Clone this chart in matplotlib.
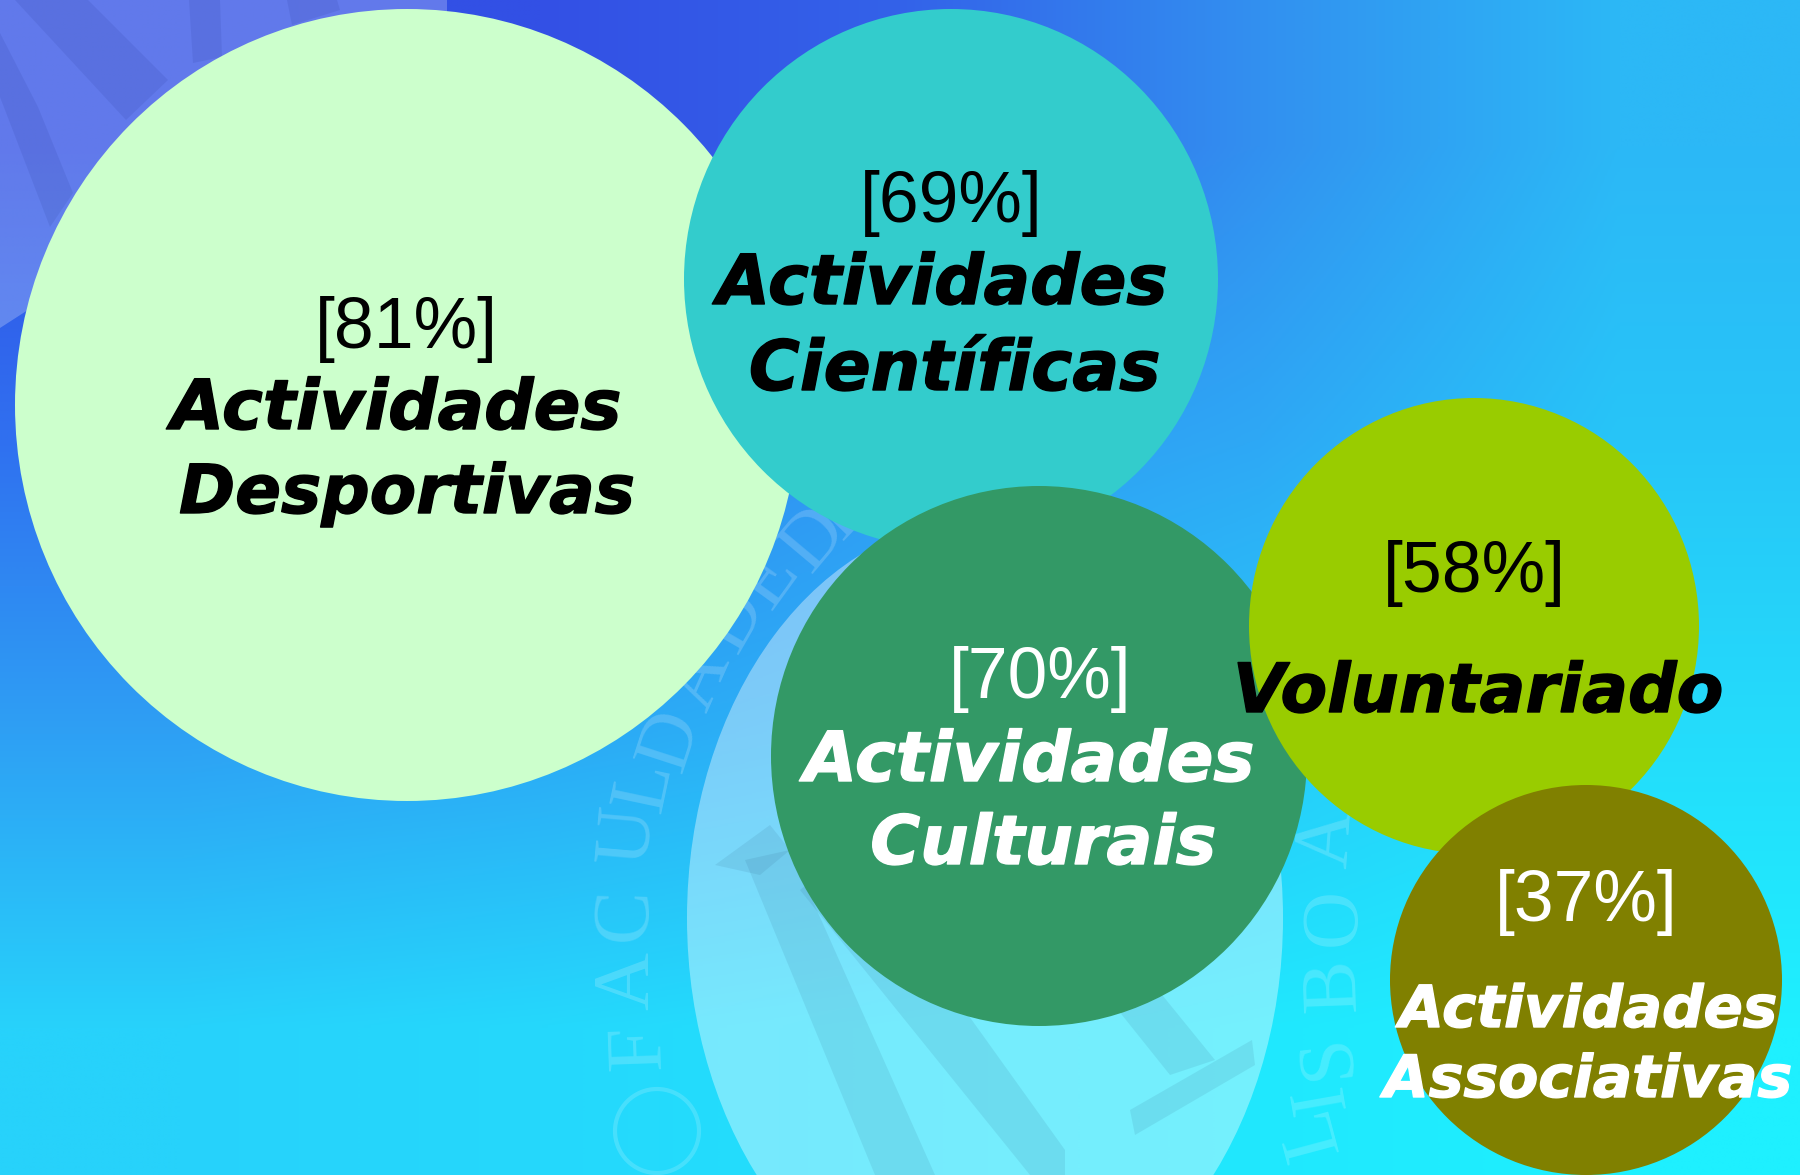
import numpy as np
import matplotlib
matplotlib.use('Agg')
import matplotlib.pyplot as plt
from matplotlib.colors import to_rgb
from matplotlib.patches import Circle, Ellipse, Polygon
import matplotlib.patheffects as pe

W, H = 1800, 1175

# bubbles, back to front
NAMES = ['Desportivas', 'Cientificas', 'Culturais', 'Voluntariado', 'Associativas']
CX = [407, 951, 1039, 1474, 1586]
CY = [405, 279, 756, 626, 980]
RX = [392, 267, 268, 225, 196]
RY = [396, 270, 270, 228, 195]
FILLS = ['#CCFFCC', '#33CCCC', '#339966', '#99CC00', '#808000']

PCT = ['[81%]', '[69%]', '[70%]', '[58%]', '[37%]']
PCT_X = [406, 951, 1040, 1474, 1586]
PCT_Y = [348, 222, 698, 592, 921]
PCT_COL = ['black', 'black', 'white', 'black', 'white']

LABELS = ['Actividades', 'Desportivas', 'Actividades', 'Científicas', 'Actividades',
          'Culturais', 'Voluntariado', 'Actividades', 'Associativas']
LAB_X = [396, 407, 942, 955, 1029, 1043, 1478, 1588, 1588]
LAB_Y = [429, 513, 304, 390, 781, 864, 712, 1027, 1097]
LAB_SIZE = [49.7, 48.7, 49.7, 50, 49.7, 49, 48.9, 41.7, 42]
LAB_COL = ['black', 'black', 'black', 'black', 'white', 'white', 'black', 'white', 'white']

# background colours read on a regular grid
BG_ROWS = [['#3050E5', '#3350E5', '#3462E9', '#3290F0', '#2CB8F6'],
           ['#3070F0', '#3180F0', '#309AF3', '#2EA8F5', '#27C5F8'],
           ['#2EA0F4', '#2CA8F5', '#2BB5F7', '#28C8F9', '#24DCFB'],
           ['#27D2FB', '#25D8FC', '#22E0FD', '#20E8FE', '#1EF0FF']]

# watermark pieces
TL_PATCH = [(0, 0), (447, 0), (447, 40), (0, 328)]
TL_STRIPES = [[(15, 0), (88, 0), (168, 80), (126, 120)],
              [(189, 0), (220, 0), (222, 57), (193, 63)],
              [(287, 0), (337, 0), (340, 10), (292, 25)],
              [(0, 33), (0, 97), (50, 227), (73, 193), (38, 107)]]
SEAL_STROKES = [[(715, 865), (770, 825), (790, 850), (760, 875)],
                [(745, 860), (790, 850), (935, 1175), (875, 1175)],
                [(800, 890), (850, 850), (1065, 1150), (1065, 1175), (1030, 1175)],
                [(1130, 1110), (1252, 1040), (1255, 1065), (1135, 1135)],
                [(1110, 1000), (1150, 980), (1215, 1060), (1170, 1075)]]
SEAL_CHARS = list('FACULDADEDE') + list('LISBOA')
SEAL_X = [640, 629, 626, 629, 646, 672, 700, 735, 770, 815, 845, 1312, 1323, 1329, 1335, 1335, 1329]
SEAL_Y = [1047, 981, 914, 835, 786, 741, 680, 620, 580, 540, 510, 1132, 1098, 1056, 985, 917, 839]
SEAL_ROT = [92, 90, 88, 85, 78, 72, 66, 60, 54, 50, 46, 105, 100, 96, 92, 90, 86]


def main():
    fig = plt.figure(figsize=(W / 100, H / 100), dpi=100)
    ax = fig.add_axes([0, 0, 1, 1])

    bg = np.array([[to_rgb(c) for c in row] for row in BG_ROWS])
    ax.imshow(bg, extent=(0, W, H, 0), interpolation='bilinear', aspect='auto', zorder=0)

    # faint logo behind the bubbles
    ax.add_patch(Polygon(TL_PATCH, fc='white', ec='none', alpha=0.24, zorder=1))
    for s in TL_STRIPES:
        ax.add_patch(Polygon(s, fc='#1a2a80', ec='none', alpha=0.10, zorder=1.1))
    ax.add_patch(Ellipse((985, 918), 596, 800, fc='white', ec='none', alpha=0.38, zorder=1))
    for s in SEAL_STROKES:
        ax.add_patch(Polygon(s, fc='#2a5a80', ec='none', alpha=0.11, zorder=1.1))
    for ch, x, y, r in zip(SEAL_CHARS, SEAL_X, SEAL_Y, SEAL_ROT):
        ax.text(x, y, ch, fontsize=58, family='Liberation Serif', color='white', alpha=0.18,
                rotation=r, rotation_mode='anchor', ha='center', va='center', zorder=1.2)
    ax.add_patch(Circle((657, 1131), 42, fc='none', ec='white', lw=3, alpha=0.16, zorder=1.2))

    for i in range(len(NAMES)):
        ax.add_patch(Ellipse((CX[i], CY[i]), 2 * RX[i], 2 * RY[i], fc=FILLS[i], ec='none',
                             zorder=2 + i * 0.1))

    for t, x, y, c in zip(PCT, PCT_X, PCT_Y, PCT_COL):
        ax.text(x, y, t, fontsize=51.5, family='Liberation Sans', color=c,
                ha='center', va='baseline', zorder=5)
    for t, x, y, s, c in zip(LABELS, LAB_X, LAB_Y, LAB_SIZE, LAB_COL):
        ax.text(x, y, t, fontsize=s, family='DejaVu Sans', fontweight='bold', style='italic',
                color=c, ha='center', va='baseline', zorder=5,
                path_effects=[pe.withStroke(linewidth=1.0, foreground=c)])

    ax.set_xlim(0, W)
    ax.set_ylim(H, 0)
    ax.axis('off')
    fig.savefig('out.png', dpi=100)
    plt.close(fig)


if __name__ == '__main__':
    main()
